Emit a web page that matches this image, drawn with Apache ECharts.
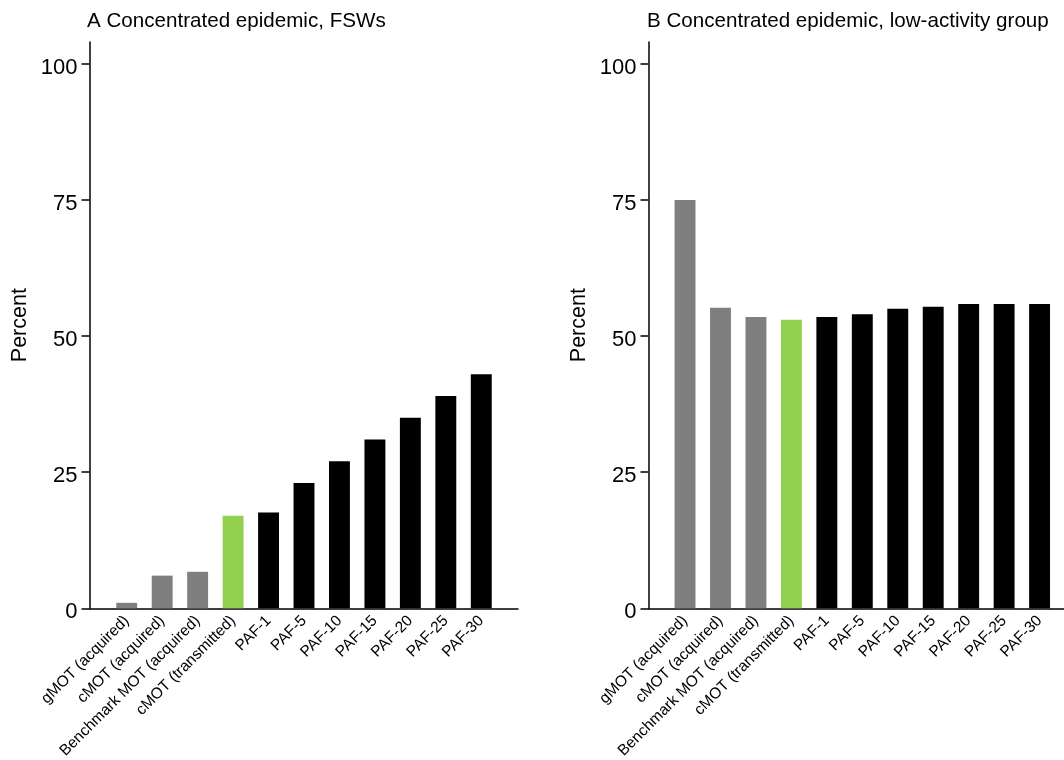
<!DOCTYPE html>
<html>
<head>
<meta charset="utf-8">
<title>Concentrated epidemic</title>
<script src="https://cdn.jsdelivr.net/npm/echarts@6/dist/echarts.min.js"></script>
<style>
  html, body { margin: 0; padding: 0; background: #ffffff; }
  #chart { width: 1064px; height: 760px; }
</style>
</head>
<body>
<div id="chart"></div>
<script>
// Measures compared in both panels
const categories = [
  'gMOT (acquired)', 'cMOT (acquired)', 'Benchmark MOT (acquired)', 'cMOT (transmitted)',
  'PAF-1', 'PAF-5', 'PAF-10', 'PAF-15', 'PAF-20', 'PAF-25', 'PAF-30'
];
// Panel A: FSWs (percent)
const fswValues = [1.0, 6.0, 6.7, 17.0, 17.6, 23.0, 27.0, 31.0, 35.0, 39.0, 43.0];
// Panel B: low-activity group (percent)
const lowActivityValues = [75.0, 55.2, 53.5, 53.0, 53.5, 54.0, 55.0, 55.4, 55.9, 55.9, 55.9];
// Y-axis tick labels
const yTicks = [0, 25, 50, 75, 100];
const panelTitles = ['A Concentrated epidemic, FSWs', 'B Concentrated epidemic, low-activity group'];

const FONT = '"Liberation Sans", Arial, Helvetica, sans-serif';
const Y_MAX = 104;

function barColor(name) {
  if (name === 'cMOT (transmitted)') return '#92d050';
  if (name.indexOf('PAF') === 0) return '#000000';
  return '#7f7f7f';
}

// Each panel: a frame grid (y axis + baseline) and a bar grid inset from the y axis
const panels = [
  { frameLeft: 89.5, frameWidth: 428.5, barLeft: 109, barWidth: 390, titleLeft: 82, values: fswValues },
  { frameLeft: 648.5, frameWidth: 428, barLeft: 667.3, barWidth: 390, titleLeft: 642, values: lowActivityValues }
];

const TOP = 42;
const BOTTOM = 760 - 608.3;

const option = {
  backgroundColor: '#ffffff',
  animation: false,
  textStyle: { fontFamily: FONT, color: '#000' },
  title: panels.map((p, i) => ({
    text: panelTitles[i],
    left: p.titleLeft,
    top: 6,
    textStyle: { fontFamily: FONT, fontSize: 20.6, fontWeight: 'normal', color: '#000' }
  })),
  grid: [],
  xAxis: [],
  yAxis: [],
  series: []
};

panels.forEach((p, i) => {
  const frameGrid = i * 2;
  const barGrid = i * 2 + 1;
  option.grid.push(
    { left: p.frameLeft, width: p.frameWidth, top: TOP, bottom: BOTTOM, containLabel: false, outerBoundsMode: 'none' },
    { left: p.barLeft, width: p.barWidth, top: TOP, bottom: BOTTOM, containLabel: false, outerBoundsMode: 'none' }
  );
  // frame: baseline only
  option.xAxis.push({
    type: 'value', gridIndex: frameGrid, min: 0, max: 1,
    axisLine: { show: true, lineStyle: { color: '#000', width: 1.5 } },
    axisTick: { show: false }, axisLabel: { show: false }, splitLine: { show: false }
  });
  // bar categories
  option.xAxis.push({
    type: 'category', gridIndex: barGrid, data: categories,
    axisLine: { show: false }, axisTick: { show: false },
    axisLabel: {
      rotate: 45, interval: 0, margin: 10,
      fontFamily: FONT, fontSize: 15.5, color: '#000'
    },
    splitLine: { show: false }
  });
  // visible y axis on the frame
  option.yAxis.push({
    type: 'value', gridIndex: frameGrid, min: 0, max: Y_MAX,
    name: 'Percent', nameLocation: 'middle', nameGap: 58, nameRotate: 90,
    nameTextStyle: { fontFamily: FONT, fontSize: 21.5, color: '#000' },
    axisLine: { show: true, lineStyle: { color: '#000', width: 1.5 } },
    axisTick: { show: true, length: 8, customValues: yTicks, lineStyle: { color: '#000', width: 1.5 } },
    axisLabel: {
      customValues: yTicks, margin: 12,
      formatter: v => '{t|' + v + '}',
      rich: { t: { fontFamily: FONT, fontSize: 22, color: '#000', padding: [8, 0, 0, 0] } }
    },
    splitLine: { show: false }
  });
  // hidden y axis for the bars, same scale
  option.yAxis.push({
    type: 'value', gridIndex: barGrid, min: 0, max: Y_MAX, show: false
  });
  option.series.push({
    type: 'bar',
    xAxisIndex: barGrid,
    yAxisIndex: barGrid,
    barWidth: '59%',
    data: p.values.map((v, k) => ({ value: v, itemStyle: { color: barColor(categories[k]) } }))
  });
});

const chart = echarts.init(document.getElementById('chart'), null, { renderer: 'canvas' });
chart.setOption(option);
</script>
</body>
</html>
